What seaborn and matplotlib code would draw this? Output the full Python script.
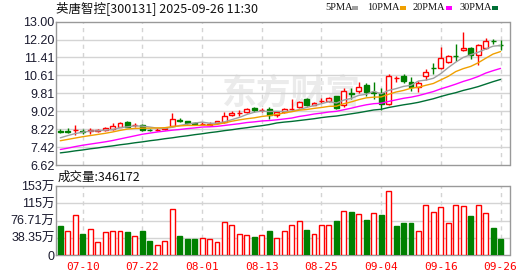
import numpy as np
import pandas as pd
import matplotlib
matplotlib.use("Agg")
import matplotlib.pyplot as plt
import seaborn as sns

# ---------------- data ----------------
dates = ["07-07","07-08","07-09","07-10","07-11","07-14","07-15","07-16","07-17","07-18",
         "07-21","07-22","07-23","07-24","07-25","07-28","07-29","07-30","07-31",
         "08-01","08-04","08-05","08-06","08-07","08-08","08-11","08-12","08-13","08-14",
         "08-15","08-18","08-19","08-20","08-21","08-22","08-25","08-26","08-27","08-28","08-29",
         "09-01","09-02","09-03","09-04","09-05","09-08","09-09","09-10","09-11","09-12",
         "09-15","09-16","09-17","09-18","09-19","09-22","09-23","09-24","09-25","09-26"]

open_ = [8.12, 8.12, 8.16, 8.14, 8.14, 8.14, 8.16, 8.24, 8.33, 8.52,
         8.39, 8.38, 8.19, 8.18, 8.22, 8.35, 8.64, 8.56, 8.48, 8.44,
         8.42, 8.47, 8.52, 8.83, 8.92, 8.97, 9.15, 9.05, 9.11, 8.83,
         8.98, 9.10, 9.22, 9.55, 9.30, 9.47, 9.49, 9.68, 9.27, 9.83,
         9.93, 10.16, 9.85, 9.82, 9.35, 10.48, 10.57, 10.32, 10.08, 10.57,
         10.94, 10.94, 11.21, 11.48, 11.74, 11.83, 11.50, 11.83, 12.13, 11.97]
high = [8.21, 8.26, 8.38, 8.24, 8.26, 8.22, 8.33, 8.48, 8.52, 8.58,
        8.49, 8.45, 8.24, 8.25, 8.32, 8.94, 8.70, 8.60, 8.55, 8.52,
        8.52, 8.58, 9.00, 9.04, 9.09, 9.14, 9.20, 9.15, 9.19, 9.01,
        9.15, 9.56, 9.49, 9.62, 9.43, 9.60, 9.66, 9.70, 10.05, 10.05,
        10.30, 10.28, 10.30, 10.05, 10.67, 10.60, 10.67, 10.54, 10.38, 10.91,
        11.18, 11.86, 11.50, 12.02, 12.52, 11.87, 12.01, 12.28, 12.22, 12.20]
low = [8.05, 8.05, 7.96, 8.02, 8.00, 8.08, 8.13, 8.20, 8.30, 8.29,
       8.29, 8.15, 8.12, 8.14, 8.20, 8.32, 8.52, 8.45, 8.40, 8.41,
       8.34, 8.46, 8.50, 8.78, 8.80, 8.94, 9.00, 8.98, 8.66, 8.76,
       8.94, 9.08, 9.18, 9.24, 9.28, 9.38, 9.44, 9.11, 9.22, 9.57,
       9.83, 9.71, 9.55, 9.08, 9.31, 10.30, 10.28, 9.90, 9.86, 10.42,
       10.68, 10.90, 11.17, 11.24, 11.70, 11.34, 11.05, 11.78, 12.00, 11.76]
close = [8.11, 8.11, 8.17, 8.08, 8.16, 8.17, 8.27, 8.34, 8.47, 8.33,
         8.41, 8.18, 8.17, 8.20, 8.27, 8.68, 8.59, 8.47, 8.46, 8.46,
         8.44, 8.56, 8.80, 8.94, 8.94, 9.11, 9.05, 9.07, 8.84, 8.96,
         9.10, 9.12, 9.44, 9.28, 9.40, 9.49, 9.60, 9.15, 9.93, 9.80,
         10.10, 9.86, 9.83, 9.34, 10.58, 10.50, 10.34, 10.11, 10.29, 10.76,
         10.92, 11.39, 11.46, 11.46, 11.83, 11.50, 11.95, 12.16, 12.12, 11.95]

ma5 = [7.83, 7.93, 8.02, 8.08, 8.13, 8.14, 8.17, 8.20, 8.28, 8.32,
       8.36, 8.35, 8.31, 8.26, 8.25, 8.30, 8.38, 8.44, 8.49, 8.53,
       8.48, 8.48, 8.54, 8.64, 8.74, 8.87, 8.97, 9.02, 9.00, 9.01,
       9.00, 9.02, 9.09, 9.18, 9.27, 9.35, 9.44, 9.38, 9.51, 9.59,
       9.72, 9.77, 9.90, 9.79, 9.94, 10.02, 10.12, 10.17, 10.36, 10.40,
       10.48, 10.69, 10.96, 11.20, 11.41, 11.53, 11.64, 11.78, 11.91, 11.94]
ma10 = [7.70, 7.76, 7.82, 7.88, 7.93, 7.98, 8.03, 8.09, 8.16, 8.22,
        8.25, 8.26, 8.26, 8.27, 8.28, 8.33, 8.36, 8.38, 8.38, 8.39,
        8.39, 8.43, 8.49, 8.57, 8.63, 8.68, 8.72, 8.78, 8.82, 8.87,
        8.94, 8.99, 9.06, 9.09, 9.14, 9.18, 9.23, 9.24, 9.35, 9.43,
        9.53, 9.61, 9.64, 9.65, 9.77, 9.87, 9.94, 10.04, 10.08, 10.17,
        10.25, 10.41, 10.57, 10.78, 10.91, 11.01, 11.17, 11.37, 11.56, 11.67]
ma20 = [7.31, 7.37, 7.44, 7.50, 7.55, 7.60, 7.65, 7.71, 7.78, 7.85,
        7.92, 7.99, 8.04, 8.09, 8.13, 8.17, 8.20, 8.24, 8.27, 8.31,
        8.32, 8.34, 8.38, 8.42, 8.46, 8.51, 8.54, 8.58, 8.60, 8.63,
        8.67, 8.71, 8.78, 8.83, 8.89, 8.93, 8.98, 9.01, 9.08, 9.15,
        9.23, 9.30, 9.35, 9.37, 9.45, 9.52, 9.59, 9.64, 9.71, 9.80,
        9.89, 10.01, 10.11, 10.22, 10.34, 10.44, 10.56, 10.71, 10.82, 10.92]
ma30 = [7.16, 7.20, 7.25, 7.29, 7.34, 7.38, 7.43, 7.47, 7.52, 7.56,
        7.61, 7.65, 7.70, 7.74, 7.79, 7.83, 7.88, 7.92, 7.97, 8.01,
        8.06, 8.10, 8.15, 8.19, 8.24, 8.28, 8.33, 8.37, 8.42, 8.49,
        8.53, 8.56, 8.60, 8.64, 8.68, 8.73, 8.77, 8.80, 8.85, 8.90,
        8.95, 9.01, 9.07, 9.10, 9.18, 9.24, 9.30, 9.35, 9.41, 9.49,
        9.57, 9.67, 9.76, 9.84, 9.94, 10.02, 10.11, 10.22, 10.33, 10.43]

volume_wan = [64.5, 53.4, 88.9, 46.7, 57.1, 28.9, 51.1, 53.4, 53.4, 51.9,
              42.2, 53.4, 31.9, 22.2, 31.1, 101.6, 42.2, 35.6, 35.6, 37.1,
              34.9, 28.9, 72.6, 66.0, 46.7, 43.7, 40.0, 43.7, 53.4, 37.1,
              52.6, 66.0, 74.9, 55.6, 46.7, 66.0, 66.0, 75.6, 97.1, 95.3,
              91.2, 77.8, 93.4, 88.9, 142.3, 64.5, 71.2, 71.2, 53.4, 111.2,
              95.6, 106.7, 71.2, 111.2, 109.0, 87.4, 111.2, 93.4, 60.0, 34.6172]
volume_up = [0, 1, 1, 0, 1, 1, 1, 1, 1, 0,
             1, 0, 0, 1, 1, 1, 0, 0, 0, 1,
             1, 1, 1, 1, 1, 1, 0, 1, 0, 1,
             1, 1, 1, 0, 1, 1, 1, 0, 1, 0,
             1, 0, 1, 0, 1, 0, 0, 0, 1, 1,
             1, 1, 1, 1, 1, 0, 1, 1, 0, 0]

price_ticks = [13.00, 12.20, 11.41, 10.61, 9.81, 9.02, 8.22, 7.42, 6.62]
price_tick_labels = ["13.00", "12.20", "11.41", "10.61", "9.81", "9.02", "8.22", "7.42", "6.62"]
vol_ticks = [153.42, 115.065, 76.71, 38.355, 0]
vol_tick_labels = ["153万", "115万", "76.71万", "38.35万", "0"]
date_ticks = ["07-10", "07-22", "08-01", "08-13", "08-25", "09-04", "09-16", "09-26"]

title = "英唐智控[300131] 2025-09-26 11:30"
legend_names = ["5PMA", "10PMA", "20PMA", "30PMA"]
vol_title = "成交量:346172"

# ---------------- style ----------------
sns.set_style("white")
plt.rcParams["font.family"] = ["Liberation Sans", "Noto Sans CJK SC", "DejaVu Sans"]

RED = "#ff0000"
GREEN = "#008000"
MA_COLORS = ["#a0a0a0", "#f0a000", "#ff00ff", "#006f35"]
FRAME = "#999999"
GRID = "#d4d4d4"

W, H = 530, 276
fig = plt.figure(figsize=(W / 100, H / 100), dpi=100)
L, R = 56, 509.5
ax1 = fig.add_axes([L / W, (H - 165) / H, (R - L) / W, (165 - 21.7) / H])
ax2 = fig.add_axes([L / W, (H - 255) / H, (R - L) / W, (255 - 186) / H])

n = len(dates)
idx = np.arange(n)
df = pd.DataFrame({"i": idx, "date": dates, "open": open_, "high": high,
                   "low": low, "close": close, "ma5": ma5, "ma10": ma10,
                   "ma20": ma20, "ma30": ma30, "vol": volume_wan, "vup": volume_up})

xlim = (-0.58, 60.2)
tick_pos = [dates.index(d) for d in date_ticks]

for ax in (ax1, ax2):
    ax.set_xlim(*xlim)
    for s in ax.spines.values():
        s.set_color(FRAME)
        s.set_linewidth(1.0)
    ax.tick_params(length=0)
    for p in tick_pos:
        ax.axvline(p, color=GRID, lw=1.0, ls=(0, (3, 3)), zorder=0)

# watermark
ax1.text(0.52, 0.50, "东方财富", transform=ax1.transAxes, fontsize=25,
         color="#ebebeb", ha="center", va="center", zorder=0,
         family=["Noto Sans CJK SC"], fontweight="bold")

# price panel
ax1.set_ylim(6.62, 13.00)
for t in price_ticks[1:-1]:
    ax1.axhline(t, color=GRID, lw=1.0, zorder=0)
ax1.set_yticks(price_ticks)
ax1.set_yticklabels(price_tick_labels, fontsize=9, color="#1a1a2e")
ax1.tick_params(axis="y", pad=1)
ax1.set_xticks([])

w = 0.66
up = df["close"] >= df["open"]
for _, r in df.iterrows():
    c = RED if r["close"] >= r["open"] else GREEN
    ax1.vlines(r["i"], r["low"], r["high"], color=c, lw=1.0, zorder=3)
ax1.bar(df["i"][up], (df["close"] - df["open"])[up], bottom=df["open"][up], width=w,
        facecolor="white", edgecolor=RED, linewidth=1.0, zorder=4)
ax1.bar(df["i"][~up], (df["open"] - df["close"])[~up], bottom=df["close"][~up], width=w,
        facecolor=GREEN, edgecolor=GREEN, linewidth=1.0, zorder=4)

for col, color in zip(["ma5", "ma10", "ma20", "ma30"], MA_COLORS):
    sns.lineplot(data=df, x="i", y=col, ax=ax1, color=color, lw=1.0, zorder=5,
                 legend=False)
ax1.set_xlabel("")
ax1.set_ylabel("")
ax1.set_xlim(*xlim)

# volume panel
ax2.set_ylim(0, 153.42)
for t in vol_ticks[1:-1]:
    ax2.axhline(t, color=GRID, lw=1.0, zorder=0)
vu = df["vup"] == 1
ax2.bar(df["i"][vu], df["vol"][vu], width=w, facecolor="white", edgecolor=RED,
        linewidth=1.0, zorder=3)
ax2.bar(df["i"][~vu], df["vol"][~vu], width=w, facecolor=GREEN, edgecolor=GREEN,
        linewidth=1.0, zorder=3)
ax2.set_yticks(vol_ticks)
ax2.set_yticklabels(vol_tick_labels, fontsize=9, color="#1a1a2e")
ax2.tick_params(axis="y", pad=1)
ax2.set_xticks(tick_pos)
ax2.set_xticklabels(date_ticks, fontsize=8, color=RED,
                    family=["DejaVu Sans Mono"])
ax2.tick_params(axis="x", pad=5)

# texts
fig.text(L / W, 1 - 8 / H, title, fontsize=9, va="center", ha="left",
         color="#111111", family=["Noto Sans CJK SC", "DejaVu Sans"])
fig.text(58 / W, 1 - 177 / H, vol_title, fontsize=9, va="center", ha="left",
         color="#111111", family=["Noto Sans CJK SC", "DejaVu Sans"])

leg_x = [325, 367, 413, 459]
leg_sq = [352, 400, 446, 492]
for name, x0, xs, c in zip(legend_names, leg_x, leg_sq, MA_COLORS):
    fig.text(x0 / W, 1 - 8 / H, name, fontsize=7.5, va="center", ha="left",
             color="#111111", family=["Liberation Serif"])
    fig.patches.append(plt.Rectangle((xs / W, 1 - 10 / H), 6 / W, 4 / H,
                                     transform=fig.transFigure, facecolor=c,
                                     edgecolor="none"))

fig.savefig("out.png", dpi=100)
